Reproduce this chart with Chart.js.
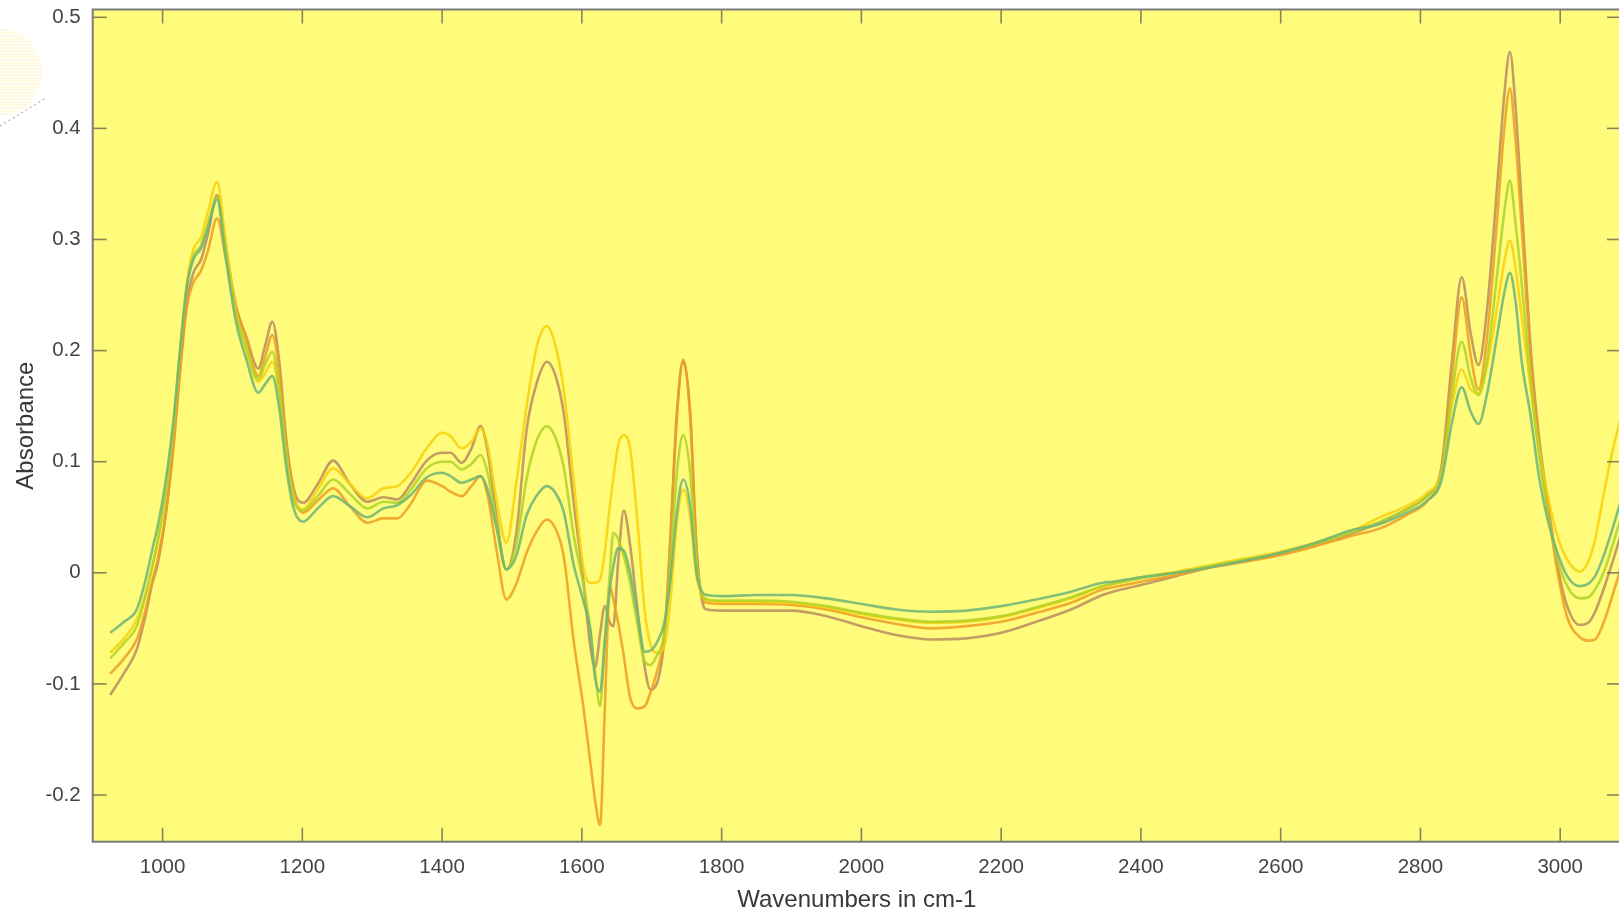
<!DOCTYPE html>
<html>
<head>
<meta charset="utf-8">
<script src="https://cdn.jsdelivr.net/npm/chart.js@4.4.1/dist/chart.umd.min.js"></script>
<style>
  html, body { margin: 0; padding: 0; background: #ffffff; overflow: hidden; width: 1619px; height: 911px; }
  #wrap { position: absolute; left: 0; top: 0; width: 1640px; height: 911px; }
  canvas { filter: blur(0.35px); }
</style>
</head>
<body>
<div id="wrap"><canvas id="c" width="1640" height="911"></canvas></div>
<script>
// ---- data ----
const wavenumbers = [925, 945, 963, 975, 985, 993, 1005, 1016, 1025, 1035, 1044, 1055, 1065, 1078,
  1090, 1105, 1120, 1137, 1147, 1157, 1167, 1177, 1188, 1201,
  1222, 1244, 1268, 1293, 1316, 1336, 1355, 1378, 1400, 1412,
  1428, 1442, 1455, 1465, 1478, 1492, 1506, 1521, 1536, 1550,
  1562, 1574, 1588, 1602, 1612, 1619, 1626, 1633, 1640, 1645,
  1652, 1660, 1669, 1679, 1690, 1698, 1707, 1718, 1726, 1736,
  1745, 1755, 1764, 1772, 1779,
  1800, 1850, 1900, 1950, 2000, 2050, 2100, 2150, 2200, 2250, 2300,
  2345, 2360, 2400, 2450, 2500, 2550, 2600, 2650, 2700,
  2742, 2780, 2810, 2830, 2845, 2859, 2872, 2883, 2895, 2910, 2920,
  2928, 2936, 2945, 2958, 2970, 2982, 2995, 3010, 3028, 3040, 3050, 3062, 3075, 3087];

const seriesGold = [-0.072, -0.059, -0.042, -0.020, 0.005, 0.028, 0.075, 0.135, 0.200, 0.262, 0.291, 0.302, 0.325, 0.352,
  0.300, 0.235, 0.200, 0.172, 0.180, 0.190, 0.160, 0.105, 0.068, 0.057,
  0.075, 0.094, 0.080, 0.067, 0.076, 0.078, 0.090, 0.112, 0.126, 0.123,
  0.112, 0.118, 0.130, 0.115, 0.065, 0.027, 0.080, 0.150, 0.205, 0.222,
  0.205, 0.165, 0.085, 0.005, -0.009, -0.009, -0.006, 0.020, 0.060, 0.085,
  0.115, 0.124, 0.112, 0.050, -0.035, -0.064, -0.072, -0.066, -0.030, 0.045,
  0.075, 0.050, -0.003, -0.020, -0.024,
  -0.026, -0.026, -0.027, -0.031, -0.037, -0.042, -0.045, -0.044, -0.040, -0.032, -0.023,
  -0.012, -0.010, -0.004, 0.001, 0.007, 0.013, 0.019, 0.027, 0.037,
  0.050, 0.060, 0.072, 0.090, 0.150, 0.183, 0.165, 0.162, 0.185, 0.240, 0.280,
  0.299, 0.275, 0.230, 0.165, 0.110, 0.070, 0.035, 0.012, 0.001, 0.010, 0.030, 0.070, 0.110, 0.140];

const seriesTan = [-0.110, -0.090, -0.069, -0.040, -0.010, 0.008, 0.055, 0.120, 0.185, 0.245, 0.270, 0.282, 0.305, 0.340,
  0.295, 0.240, 0.212, 0.184, 0.205, 0.226, 0.190, 0.120, 0.075, 0.063,
  0.080, 0.101, 0.080, 0.064, 0.068, 0.066, 0.080, 0.101, 0.108, 0.108,
  0.099, 0.112, 0.132, 0.110, 0.050, 0.003, 0.035, 0.129, 0.172, 0.190,
  0.178, 0.144, 0.065, -0.006, -0.066, -0.085, -0.055, -0.030, -0.045, -0.048,
  0.010, 0.056, 0.025, -0.030, -0.085, -0.105, -0.100, -0.060, 0.024, 0.144,
  0.190, 0.144, 0.024, -0.025, -0.033,
  -0.034, -0.034, -0.034, -0.039, -0.048, -0.056, -0.060, -0.059, -0.054, -0.044, -0.033,
  -0.020, -0.017, -0.011, -0.003, 0.005, 0.011, 0.017, 0.025, 0.035,
  0.045, 0.057, 0.070, 0.095, 0.190, 0.266, 0.215, 0.187, 0.235, 0.350, 0.430,
  0.469, 0.420, 0.330, 0.200, 0.120, 0.065, 0.010, -0.030, -0.047, -0.045, -0.035, -0.015, 0.010, 0.035];

const seriesLime = [-0.077, -0.063, -0.048, -0.022, 0.005, 0.028, 0.075, 0.135, 0.200, 0.260, 0.285, 0.295, 0.315, 0.338,
  0.290, 0.232, 0.203, 0.174, 0.188, 0.199, 0.165, 0.105, 0.065, 0.056,
  0.069, 0.084, 0.071, 0.058, 0.064, 0.063, 0.075, 0.094, 0.100, 0.100,
  0.093, 0.098, 0.106, 0.090, 0.045, 0.003, 0.025, 0.085, 0.120, 0.132,
  0.122, 0.095, 0.035, -0.010, -0.050, -0.090, -0.120, -0.060, 0.000, 0.036,
  0.030, 0.015, -0.009, -0.045, -0.080, -0.083, -0.075, -0.055, 0.000, 0.090,
  0.124, 0.090, 0.010, -0.020, -0.024,
  -0.025, -0.025, -0.026, -0.030, -0.036, -0.041, -0.044, -0.043, -0.039, -0.031, -0.022,
  -0.012, -0.010, -0.005, 0.000, 0.006, 0.012, 0.018, 0.026, 0.036,
  0.046, 0.057, 0.069, 0.088, 0.160, 0.208, 0.175, 0.160, 0.190, 0.270, 0.325,
  0.353, 0.315, 0.260, 0.170, 0.105, 0.055, 0.015, -0.012, -0.023, -0.022, -0.015, 0.000, 0.025, 0.050];

const seriesGreen = [-0.054, -0.044, -0.033, -0.008, 0.020, 0.042, 0.085, 0.140, 0.200, 0.258, 0.282, 0.292, 0.310, 0.336,
  0.285, 0.226, 0.192, 0.162, 0.170, 0.177, 0.148, 0.095, 0.057, 0.046,
  0.058, 0.069, 0.060, 0.050, 0.058, 0.061, 0.070, 0.086, 0.090, 0.087,
  0.081, 0.084, 0.087, 0.075, 0.040, 0.003, 0.015, 0.052, 0.070, 0.078,
  0.072, 0.055, 0.008, -0.025, -0.051, -0.095, -0.107, -0.060, -0.015, 0.006,
  0.022, 0.020, 0.000, -0.035, -0.071, -0.070, -0.063, -0.045, -0.010, 0.055,
  0.084, 0.060, 0.000, -0.017, -0.020,
  -0.021, -0.020, -0.020, -0.023, -0.028, -0.033, -0.035, -0.034, -0.030, -0.024, -0.017,
  -0.009, -0.008, -0.004, 0.000, 0.005, 0.011, 0.018, 0.027, 0.038,
  0.044, 0.054, 0.065, 0.083, 0.135, 0.167, 0.145, 0.134, 0.160, 0.215, 0.252,
  0.270, 0.245, 0.190, 0.140, 0.085, 0.048, 0.020, -0.003, -0.012, -0.010, -0.003, 0.015, 0.040, 0.065];

const seriesOrange = [-0.091, -0.077, -0.060, -0.035, -0.008, 0.012, 0.055, 0.115, 0.180, 0.240, 0.261, 0.272, 0.290, 0.319,
  0.285, 0.240, 0.210, 0.177, 0.195, 0.214, 0.180, 0.115, 0.070, 0.054,
  0.065, 0.076, 0.060, 0.045, 0.049, 0.049, 0.062, 0.083, 0.078, 0.073,
  0.069, 0.078, 0.087, 0.070, 0.020, -0.024, -0.010, 0.018, 0.038, 0.048,
  0.040, 0.015, -0.060, -0.120, -0.170, -0.205, -0.227, -0.120, -0.012, -0.024,
  -0.045, -0.075, -0.112, -0.122, -0.120, -0.108, -0.090, -0.055, 0.020, 0.140,
  0.192, 0.140, 0.020, -0.022, -0.027,
  -0.028, -0.028, -0.029, -0.033, -0.040, -0.046, -0.050, -0.048, -0.044, -0.036, -0.027,
  -0.015, -0.013, -0.008, -0.002, 0.005, 0.010, 0.016, 0.024, 0.033,
  0.040, 0.052, 0.065, 0.090, 0.175, 0.248, 0.195, 0.165, 0.210, 0.320, 0.400,
  0.436, 0.390, 0.310, 0.190, 0.115, 0.060, 0.005, -0.040, -0.058, -0.061, -0.060, -0.045, -0.020, 0.005];

const xTickValues = [1000, 1200, 1400, 1600, 1800, 2000, 2200, 2400, 2600, 2800, 3000];
const yTickValues = [-0.2, -0.1, 0, 0.1, 0.2, 0.3, 0.4, 0.5];
const xTitle = 'Wavenumbers in cm-1';
const yTitle = 'Absorbance';

// ---- chart ----
const seriesList = [
  { data: seriesGreen,  color: 'rgba(110, 180, 120, 0.85)' },
  { data: seriesLime,   color: 'rgba(175, 210, 40, 0.85)' },
  { data: seriesGold,   color: 'rgba(248, 208, 10, 0.85)' },
  { data: seriesOrange, color: 'rgba(238, 158, 35, 0.85)' },
  { data: seriesTan,    color: 'rgba(185, 140, 95, 0.85)' }
];

const datasets = seriesList.map(s => ({
  data: wavenumbers.map((w, i) => ({ x: w, y: s.data[i] })),
  borderColor: s.color,
  borderWidth: 2.6,
  pointRadius: 0,
  fill: false,
  cubicInterpolationMode: 'monotone'
}));

const fontFamily = "'Liberation Sans', Arial, Helvetica, sans-serif";

const backgroundPlugin = {
  id: 'plotBackground',
  beforeDraw(chart) {
    const { ctx, chartArea: a } = chart;
    ctx.save();
    // faint decoration at the top-left corner (slide artifact)
    ctx.beginPath();
    ctx.arc(-2, 72, 44, 0, Math.PI * 2);
    ctx.clip();
    ctx.strokeStyle = 'rgba(255, 226, 60, 0.35)';
    ctx.lineWidth = 1.2;
    for (let y = 30; y < 118; y += 3) {
      ctx.beginPath(); ctx.moveTo(0, y); ctx.lineTo(46, y); ctx.stroke();
    }
    ctx.restore();
    ctx.save();
    ctx.strokeStyle = 'rgba(60, 60, 60, 0.55)';
    ctx.lineWidth = 1;
    ctx.setLineDash([2, 3]);
    ctx.beginPath(); ctx.moveTo(0, 126); ctx.lineTo(46, 98); ctx.stroke();
    ctx.restore();

    ctx.save();
    ctx.fillStyle = '#fffc7c';
    ctx.fillRect(a.left, a.top, a.right - a.left, a.bottom - a.top);
    ctx.restore();
  }
};

const framePlugin = {
  id: 'matlabFrame',
  afterDatasetsDraw(chart) {
    const { ctx, chartArea: a, scales: { x, y } } = chart;
    const tickLen = 14;
    ctx.save();
    ctx.strokeStyle = 'rgba(95, 95, 80, 0.75)';
    ctx.lineWidth = 1.6;
    x.ticks.forEach(t => {
      const px = x.getPixelForValue(t.value);
      ctx.beginPath(); ctx.moveTo(px, a.bottom); ctx.lineTo(px, a.bottom - tickLen); ctx.stroke();
      ctx.beginPath(); ctx.moveTo(px, a.top); ctx.lineTo(px, a.top + tickLen); ctx.stroke();
    });
    y.ticks.forEach(t => {
      const py = y.getPixelForValue(t.value);
      ctx.beginPath(); ctx.moveTo(a.left, py); ctx.lineTo(a.left + tickLen, py); ctx.stroke();
      ctx.beginPath(); ctx.moveTo(a.right, py); ctx.lineTo(a.right - tickLen, py); ctx.stroke();
    });
    ctx.strokeStyle = '#7a7a7a';
    ctx.lineWidth = 2;
    ctx.strokeRect(a.left, a.top, a.right - a.left, a.bottom - a.top);
    ctx.restore();
  }
};

new Chart(document.getElementById('c'), {
  type: 'line',
  data: { datasets },
  plugins: [backgroundPlugin, framePlugin],
  options: {
    responsive: false,
    animation: false,
    devicePixelRatio: 1,
    layout: { padding: { top: 9.5, right: 19, left: 0, bottom: 0 } },
    plugins: { legend: { display: false }, tooltip: { enabled: false } },
    scales: {
      x: {
        type: 'linear',
        min: 900,
        max: 3087,
        afterBuildTicks: s => { s.ticks = xTickValues.map(v => ({ value: v })); },
        afterFit: s => { s.height = 69.3; s.paddingLeft = 0; s.paddingRight = 0; },
        grid: { display: false, drawTicks: false },
        border: { display: false },
        ticks: {
          autoSkip: false, maxRotation: 0, padding: 13,
          color: '#444444',
          font: { family: fontFamily, size: 20.5 },
          callback: v => String(v)
        },
        title: {
          display: true, text: xTitle, color: '#383838',
          font: { family: fontFamily, size: 24, lineHeight: 0.85 },
          padding: { top: 0, bottom: 0 }
        }
      },
      y: {
        type: 'linear',
        min: -0.242,
        max: 0.507,
        afterBuildTicks: s => { s.ticks = yTickValues.map(v => ({ value: v })); },
        afterFit: s => { s.width = 92.7; s.paddingTop = 0; s.paddingBottom = 0; },
        grid: { display: false, drawTicks: false },
        border: { display: false },
        ticks: {
          padding: 12,
          color: '#444444',
          font: { family: fontFamily, size: 20.5 },
          callback: v => (Math.abs(v) < 1e-9 ? '0' : String(Math.round(v * 10) / 10))
        },
        title: {
          display: true, text: yTitle, color: '#383838',
          font: { family: fontFamily, size: 24 },
          padding: { top: 12, bottom: 0 }
        }
      }
    }
  }
});
</script>
</body>
</html>
